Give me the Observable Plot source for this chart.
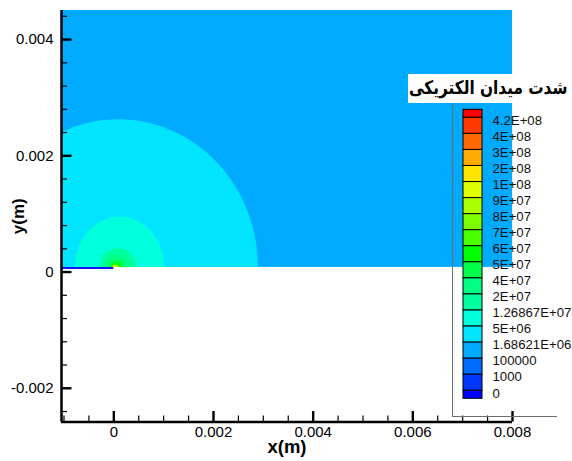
<!DOCTYPE html>
<html><head><meta charset="utf-8">
<script src="https://cdn.jsdelivr.net/npm/d3@7"></script>
<script src="https://cdn.jsdelivr.net/npm/@observablehq/plot@0.6"></script>
<style>
html,body{margin:0;padding:0;background:#fff;}
#chart{position:relative;width:572px;height:461px;overflow:hidden;font-family:"Liberation Sans",Arial,sans-serif;}
#chart svg{position:absolute;overflow:visible;}
.frame{position:absolute;left:452px;top:103px;width:105px;height:314px;border-left:1px solid #6e6e6e;border-bottom:1px solid #6e6e6e;box-sizing:border-box;}
.ltitle{position:absolute;left:408px;top:74px;width:164px;height:29px;background:#fff;direction:rtl;text-align:right;font:bold 15px "DejaVu Sans",sans-serif;line-height:29px;padding-right:5px;box-sizing:border-box;white-space:nowrap;color:#000;}
.ltitle span{display:inline-block;transform:scale(1.02,1.25);transform-origin:right center;}
</style></head>
<body><div id="chart"></div>
<script>
// ---- data ----
const legendLabels = ["4.2E+08","4E+08","3E+08","2E+08","1E+08","9E+07","8E+07","7E+07","6E+07","5E+07","4E+07","2E+07","1.26867E+07","5E+06","1.68621E+06","100000","1000","0"];
const legendColors = ["#ff0000","#ff3800","#ff6a00","#ffaa00","#ffe600","#ddff00","#aaff00","#80ff00","#4cff00","#00ff00","#00ff48","#00ff84","#00ff9e","#00ffdc","#00e4ff","#00aaff","#006cff","#0036ff","#0000ff"];
const backgroundLevel = 15;
const fieldBase = 0.00008;
const fieldTop = 0.0045;
const fieldLeft = -0.00105;
const fieldRight = 0.008;
const contourLevels = [14, 13, 12, 11, 10, 9, 6, 4];
const contourLeft   = [-0.0027, -0.00077, -0.00028, -0.000167, -0.000086, -0.000046, -0.00002, 0.0];
const contourRight  = [0.0029, 0.00102, 0.000455, 0.000335, 0.000235, 0.000155, 0.0001, 0.00007];
const contourTop    = [0.00262, 0.000945, 0.000401, 0.000286, 0.0002, 0.000148, 0.00012, 0.0001];
const electrodeX = [-0.00105, 0];
const electrodeY = 0.00007;
const xMajor = [0, 0.002, 0.004, 0.006, 0.008];
const yMajor = [-0.002, 0, 0.002, 0.004];
const xMinor = [-0.001,-0.0005,0.0005,0.001,0.0015,0.0025,0.003,0.0035,0.0045,0.005,0.0055,0.0065,0.007,0.0075];
const yMinor = [-0.0024,-0.0016,-0.0012,-0.0008,-0.0004,0.0004,0.0008,0.0012,0.0016,0.0024,0.0028,0.0032,0.0036,0.0044];

// ---- layout ----
const W = 572, H = 461;
const mL = 61, mR = 60, mT = 10, mB = 39.5;
const frameW = W - mL - mR, frameH = H - mT - mB;
const xDomain = [-0.00105, 0.008];
const yDomain = [-0.00258, 0.0045];

const contourPoints = [];
contourLevels.forEach((lev, i) => {
  const cx = (contourLeft[i] + contourRight[i]) / 2;
  const a = (contourRight[i] - contourLeft[i]) / 2;
  const h = contourTop[i] - fieldBase;
  for (let k = 0; k <= 180; k++) {
    const t = Math.PI * (1 - k / 180);
    contourPoints.push({id: i, color: legendColors[lev], x: cx + a * Math.cos(t), y: fieldBase + h * Math.sin(t), base: fieldBase});
  }
});

const font = {fontFamily: "'Liberation Sans', Arial, sans-serif", fontSize: "15px", color: "#000", background: "transparent"};

const main = Plot.plot({
  width: W, height: H,
  marginLeft: mL, marginRight: mR, marginTop: mT, marginBottom: mB,
  x: {domain: xDomain},
  y: {domain: yDomain},
  color: {type: "identity"},
  style: font,
  marks: [
    Plot.rect([{x1: fieldLeft, x2: fieldRight, y1: fieldBase, y2: fieldTop}], {x1: "x1", x2: "x2", y1: "y1", y2: "y2", fill: legendColors[backgroundLevel]}),
    Plot.area(contourPoints, {x1: "x", y1: "base", y2: "y", z: "id", fill: "color", clip: true}),
    Plot.ruleY([{y: electrodeY, x1: electrodeX[0], x2: electrodeX[1]}], {y: "y", x1: "x1", x2: "x2", stroke: "#1414f0", strokeWidth: 2.2}),
    Plot.tickY(yMinor, {y: d => d, insetRight: frameW - 6, strokeWidth: 1.2}),
    Plot.tickY(yMajor, {y: d => d, insetRight: frameW - 10.5, strokeWidth: 2.4}),
    Plot.tickX(xMinor, {x: d => d, insetTop: frameH - 6, strokeWidth: 1.2}),
    Plot.tickX(xMajor, {x: d => d, insetTop: frameH - 10.5, strokeWidth: 2.4}),
    Plot.ruleX([xDomain[0]], {strokeWidth: 2.5}),
    Plot.ruleY([yDomain[0]], {strokeWidth: 2.5}),
    Plot.axisY(yMajor, {tickSize: 0, tickPadding: 8, tickFormat: d => String(d), label: null, fontSize: 15}),
    Plot.axisX(xMajor, {tickSize: 0, tickPadding: 4, tickFormat: d => String(d), label: null, fontSize: 15}),
    Plot.text(["x(m)"], {frameAnchor: "bottom", dy: 30.5, text: d => d, fontSize: 18.5, fontWeight: "bold"}),
    Plot.text(["y(m)"], {x: xDomain[0], y: (yDomain[0] + yDomain[1]) / 2, dx: -43, rotate: -90, text: d => d, fontSize: 17, fontWeight: "bold"})
  ]
});
main.style.left = "0px"; main.style.top = "0px";

const nL = legendLabels.length;
const legend = Plot.plot({
  width: 117, height: 300,
  marginLeft: 8, marginRight: 90, marginTop: 4.3, marginBottom: 6.7,
  x: {domain: [0, 1], axis: null},
  y: {domain: [nL - 0.5, -0.5], axis: null},
  style: font,
  marks: [
    Plot.rect(legendColors, {
      x1: 0, x2: 1,
      y1: (d, i) => i === 0 ? -0.5 : i - 1,
      y2: (d, i) => i === legendColors.length - 1 ? nL - 0.5 : i,
      fill: d => d, stroke: "#000", strokeWidth: 1
    }),
    Plot.text(legendLabels, {x: 1, y: (d, i) => i, text: d => d, textAnchor: "start", dx: 10, dy: 2.5, fontSize: 13.2, fill: "#111"})
  ]
});
legend.style.left = "455px"; legend.style.top = "105px";

const chart = document.getElementById("chart");
chart.appendChild(main);
const frame = document.createElement("div"); frame.className = "frame"; chart.appendChild(frame);
const title = document.createElement("div"); title.className = "ltitle";
const tspan = document.createElement("span"); tspan.textContent = "شدت میدان الکتریکی"; title.appendChild(tspan);
chart.appendChild(title);
chart.appendChild(legend);
</script></body></html>
